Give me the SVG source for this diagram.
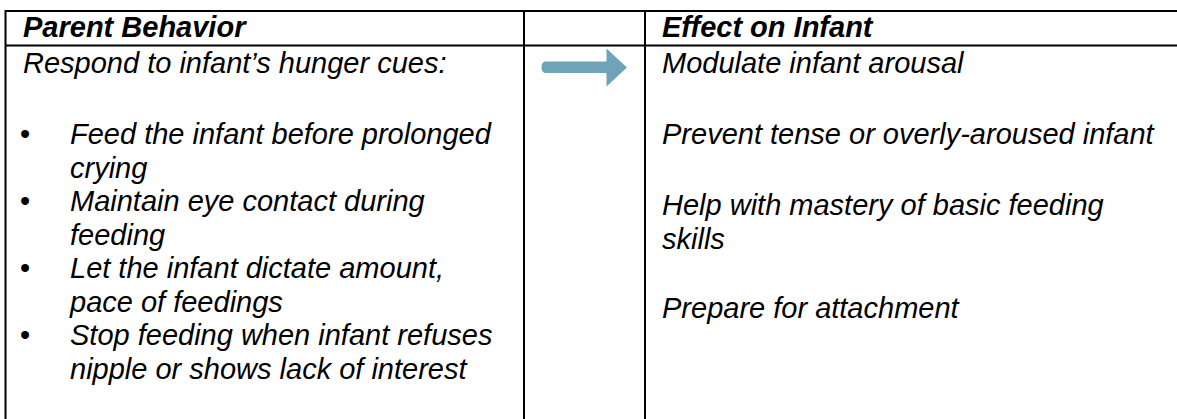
<svg xmlns="http://www.w3.org/2000/svg" width="1177" height="419" viewBox="0 0 1177 419">
<style>
  .grid { stroke: #000; stroke-width: 2; fill: none; }
  .t { font-family: "Liberation Sans", Arial, sans-serif; font-size: 29px; font-style: italic; fill: #000; }
  .h { font-weight: bold; }
  .b { font-family: "Liberation Sans", Arial, sans-serif; font-size: 29px; fill: #000; }
  .arrow { fill: #6fa3b7; }
</style>
<rect x="0" y="0" width="1177" height="419" fill="#fff"/>
<g id="table-grid">
  <line class="grid" x1="5" y1="11" x2="1177" y2="11"/>
  <line class="grid" x1="5" y1="45.5" x2="1177" y2="45.5"/>
  <line class="grid" x1="5.5" y1="10" x2="5.5" y2="419"/>
  <line class="grid" x1="524" y1="10" x2="524" y2="419"/>
  <line class="grid" x1="645" y1="10" x2="645" y2="419"/>
</g>
<g id="header-parent">
  <text class="t h" x="23" y="37">Parent Behavior</text>
</g>
<g id="header-effect">
  <text class="t h" x="662" y="37">Effect on Infant</text>
</g>
<g id="parent-behavior">
  <text class="t" x="23" y="73">Respond to infant’s hunger cues:</text>
  <text class="b" x="20" y="144">•</text>
  <text class="t" x="70" y="144">Feed the infant before prolonged</text>
  <text class="t" x="70" y="177.5">crying</text>
  <text class="b" x="20" y="211">•</text>
  <text class="t" x="70" y="211">Maintain eye contact during</text>
  <text class="t" x="70" y="244.5">feeding</text>
  <text class="b" x="20" y="278">•</text>
  <text class="t" x="70" y="278">Let the infant dictate amount,</text>
  <text class="t" x="70" y="311.5">pace of feedings</text>
  <text class="b" x="20" y="345">•</text>
  <text class="t" x="70" y="345">Stop feeding when infant refuses</text>
  <text class="t" x="70" y="378.5">nipple or shows lack of interest</text>
</g>
<g id="effect-on-infant">
  <text class="t" x="662" y="73">Modulate infant arousal</text>
  <text class="t" x="662" y="144">Prevent tense or overly-aroused infant</text>
  <text class="t" x="662" y="215">Help with mastery of basic feeding</text>
  <text class="t" x="662" y="248.5">skills</text>
  <text class="t" x="662" y="318">Prepare for attachment</text>
</g>
<g id="connectors">
  <path class="arrow" d="M 546 61.5 L 606.5 61.5 L 606.5 48.5 L 627 67.5 L 606.5 86.5 L 606.5 73 L 546 73 Q 541.5 73 541.5 67.25 Q 541.5 61.5 546 61.5 Z"/>
</g>
</svg>
